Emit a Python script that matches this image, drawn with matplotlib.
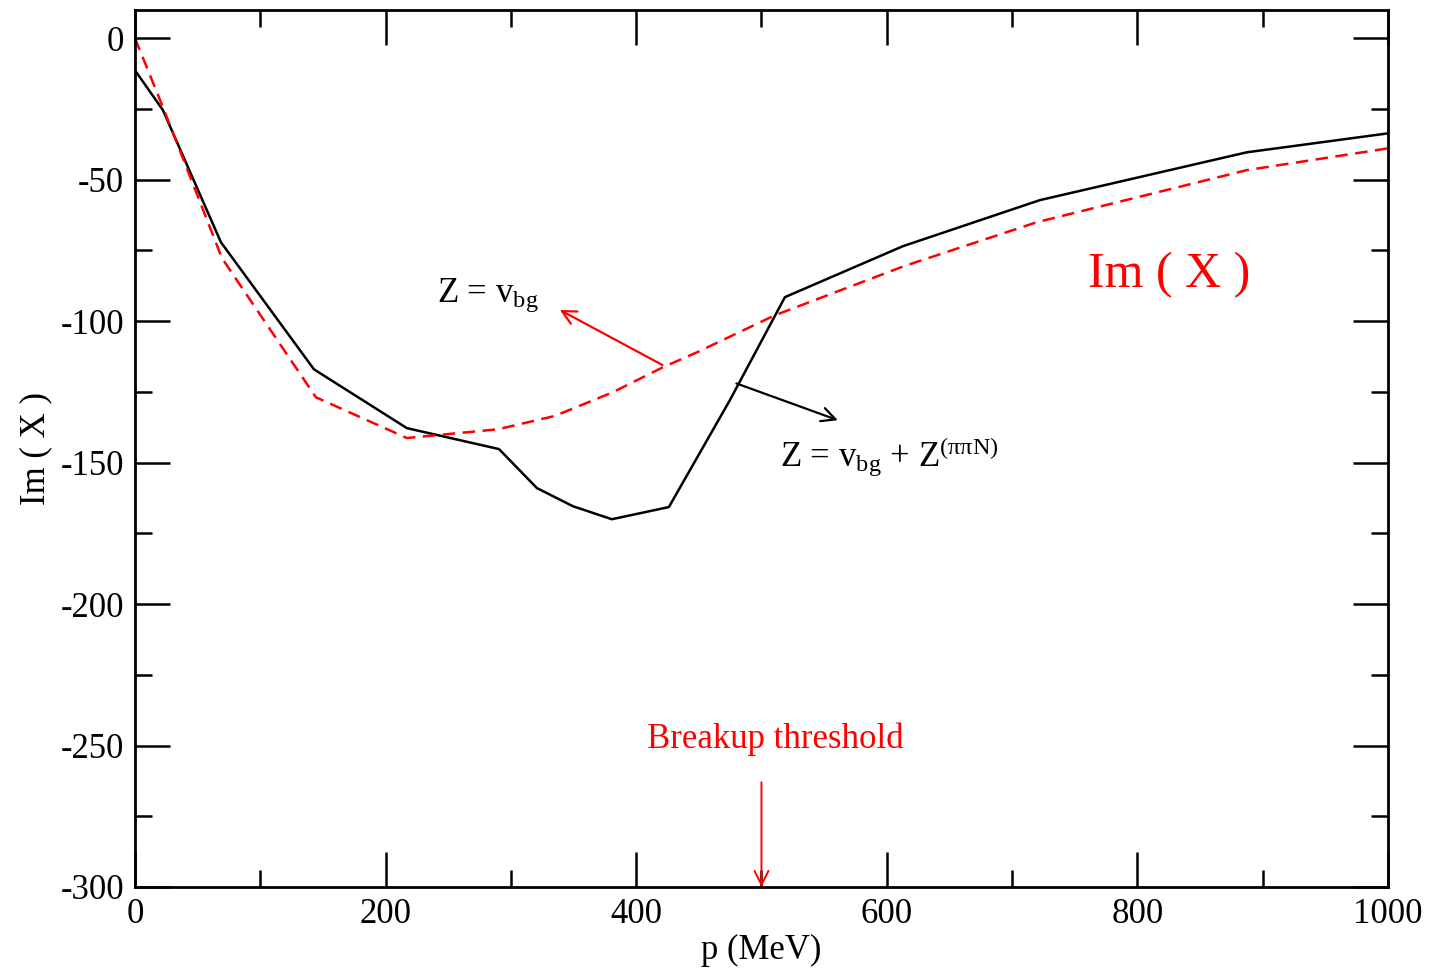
import matplotlib
matplotlib.use('Agg')
import matplotlib.pyplot as plt
from matplotlib.ticker import MultipleLocator

plt.rcParams['font.family'] = ['Liberation Serif', 'DejaVu Serif']
plt.rcParams['mathtext.fontset'] = 'custom'
plt.rcParams['mathtext.rm'] = 'Liberation Serif'
plt.rcParams['mathtext.it'] = 'Liberation Serif'
plt.rcParams['axes.unicode_minus'] = False

# Z = v_bg + Z(pipiN), solid black
p_full = [0, 22.3, 68.6, 142.8, 217.0, 290.5, 320.8, 349.5, 380.6, 426.1, 474.8, 518.7, 612.8, 722.2, 887.3, 1000]
im_full = [-11.3, -25.4, -72.1, -117.0, -137.8, -145.2, -159.0, -165.4, -170.0, -165.7, -127.9, -91.5, -73.5, -57.2, -40.3, -33.6]

# Z = v_bg, dashed red
p_bg = [0, 22.0, 69.4, 144.4, 217.0, 289.7, 335.0, 381.4, 421.3, 448.5, 510.7, 614.0, 719.8, 887.3, 1000]
im_bg = [0, -24.0, -77.7, -126.9, -141.3, -138.2, -133.5, -125.1, -116.3, -111.0, -97.9, -80.5, -65.0, -46.6, -38.9]

threshold_p = 500

fig = plt.figure(figsize=(14.3, 9.73), dpi=100)
ax = fig.add_axes([0.0944, 0.0884, 0.8762, 0.9013])

ax.plot(p_full, im_full, color='black', lw=1.8)
ax.plot(p_bg, im_bg, color='red', lw=1.8, ls=(0, (5, 3)))

ax.set_xlim(0, 1000)
ax.set_ylim(-300, 10)
ax.xaxis.set_major_locator(MultipleLocator(200))
ax.xaxis.set_minor_locator(MultipleLocator(100))
ax.yaxis.set_major_locator(MultipleLocator(50))
ax.yaxis.set_minor_locator(MultipleLocator(25))
ax.tick_params(which='both', direction='in', top=True, right=True, width=1.8, labelsize=25)
ax.tick_params(which='major', length=25, pad=8)
ax.tick_params(which='minor', length=12)
for s in ax.spines.values():
    s.set_linewidth(2)

ax.set_xlabel('p (MeV)', fontsize=25, labelpad=2)
ax.set_ylabel('Im ( X )', fontsize=25, labelpad=6)

# annotations
ax.annotate('', xy=(339, -96), xytext=(421, -115.5),
            arrowprops=dict(arrowstyle='->', color='red', lw=1.6, mutation_scale=25,
                            shrinkA=0, shrinkB=0))
ax.text(241, -93, r'Z = v$_{\rm bg}$', fontsize=25, ha='left', va='baseline')

ax.annotate('', xy=(561, -135), xytext=(480, -122),
            arrowprops=dict(arrowstyle='->', color='black', lw=1.6, mutation_scale=25,
                            shrinkA=0, shrinkB=0))
ax.text(515, -151, r'Z = v$_{\rm bg}$ + Z$^{(\pi\pi{\rm N})}$', fontsize=25, ha='left', va='baseline')

ax.text(761, -88, 'Im ( X )', fontsize=36, color='red', ha='left', va='baseline')

ax.annotate('', xy=(threshold_p, -300), xytext=(threshold_p, -263),
            arrowprops=dict(arrowstyle='->', color='red', lw=1.4, mutation_scale=25,
                            shrinkA=0, shrinkB=0))
ax.text(409, -251, 'Breakup threshold', fontsize=25, color='red', ha='left', va='baseline')

fig.savefig('out.png', dpi=100)
